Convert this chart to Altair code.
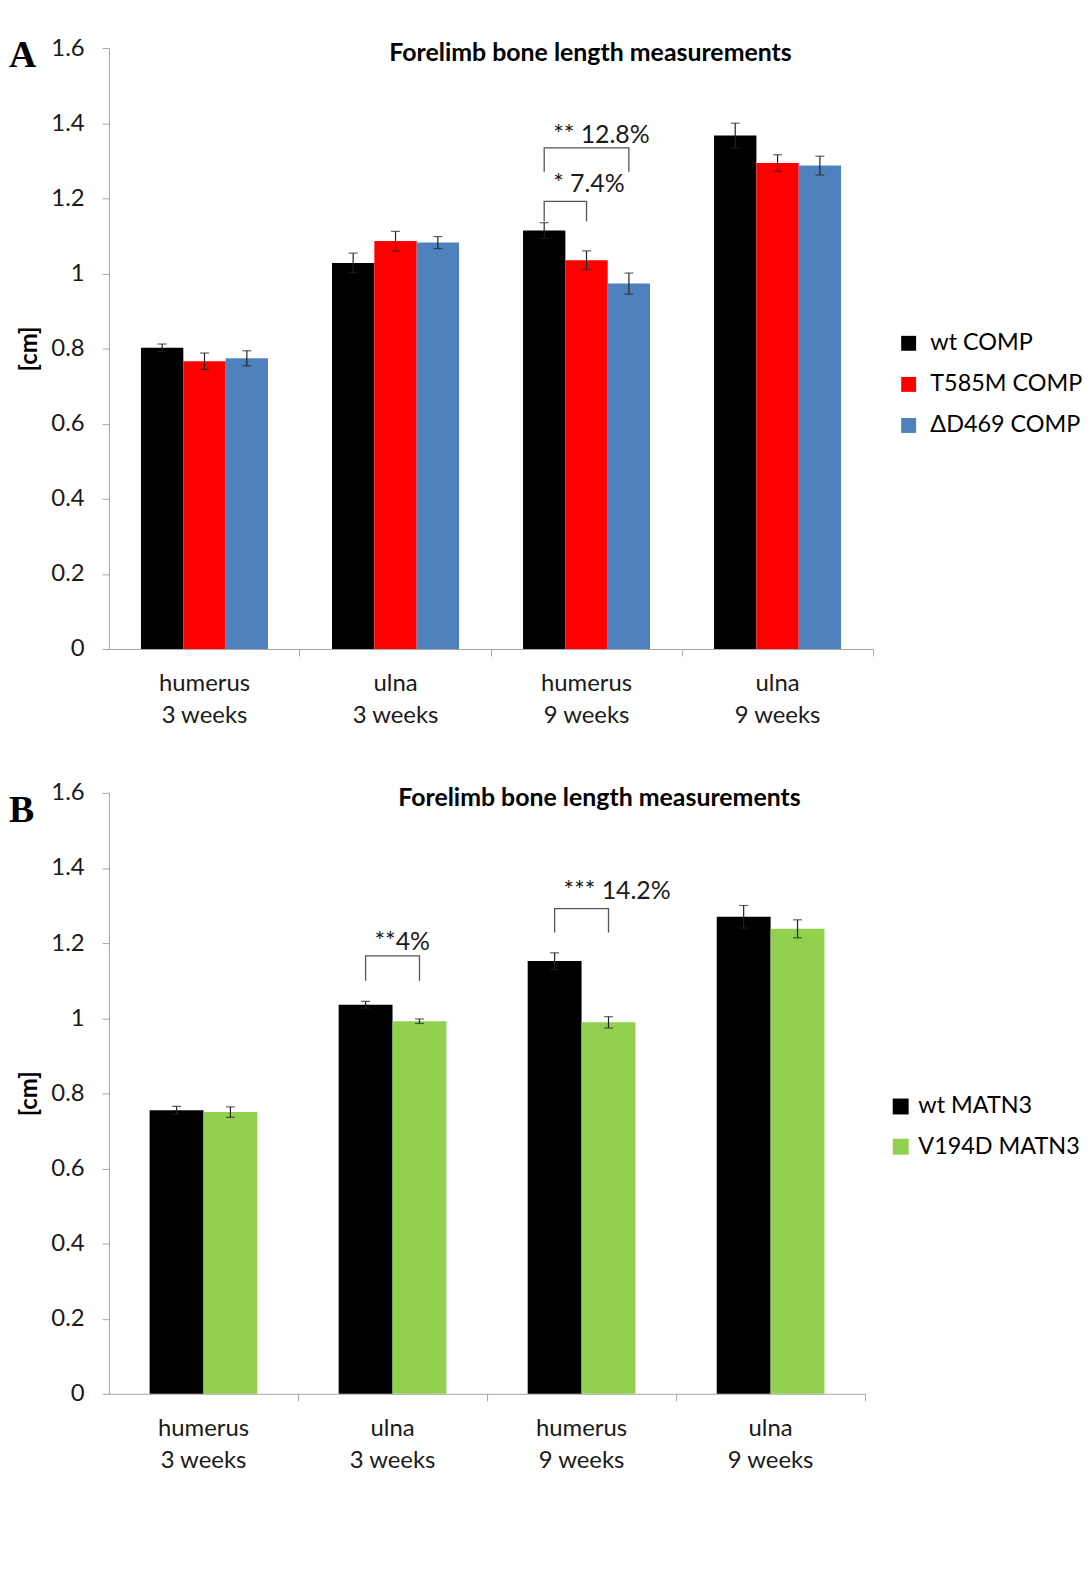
import altair as alt
import pandas as pd

# ---------------- data ----------------
categories = ["humerus\n3 weeks", "ulna\n3 weeks", "humerus\n9 weeks", "ulna\n9 weeks"]

groups_a = ["wt COMP", "T585M COMP", "ΔD469 COMP"]
colors_a = ["#000000", "#FF0000", "#4F81BD"]
wt_comp = [0.802, 1.028, 1.114, 1.367]
wt_comp_err = [0.010, 0.026, 0.021, 0.033]
t585m_comp = [0.766, 1.086, 1.035, 1.294]
t585m_comp_err = [0.022, 0.026, 0.025, 0.022]
d469_comp = [0.774, 1.082, 0.973, 1.287]
d469_comp_err = [0.020, 0.016, 0.028, 0.025]

groups_b = ["wt MATN3", "V194D MATN3"]
colors_b = ["#000000", "#92D050"]
wt_matn3 = [0.755, 1.036, 1.152, 1.270]
wt_matn3_err = [0.010, 0.009, 0.022, 0.030]
v194d_matn3 = [0.750, 0.992, 0.989, 1.238]
v194d_matn3_err = [0.014, 0.006, 0.015, 0.024]

# significance brackets: (category, from group, to group, leg bottom, top, label, label y)
brackets_a = [
    ("humerus\n9 weeks", "wt COMP", "ΔD469 COMP", 1.271, 1.334, "** 12.8%", 1.369),
    ("humerus\n9 weeks", "wt COMP", "T585M COMP", 1.139, 1.192, "* 7.4%", 1.237),
]
brackets_b = [
    ("ulna\n3 weeks", "wt MATN3", "V194D MATN3", 1.100, 1.166, "**4%", 1.202),
    ("humerus\n9 weeks", "wt MATN3", "V194D MATN3", 1.228, 1.292, "*** 14.2%", 1.339),
]

y_ticks = [0, 0.2, 0.4, 0.6, 0.8, 1.0, 1.2, 1.4, 1.6]
title_text = "Forelimb bone length measurements"

FONT = "Lato"
AXIS_GREY = "#A6A6A6"


def make_panel(groups, colors, series, errs, brackets, width, height,
               pad_inner, title_dx, title_dy, legend_x, legend_y,
               label_offset, sym_size, row_pad):
    rows = []
    for g, vals, es in zip(groups, series, errs):
        for c, v, e in zip(categories, vals, es):
            rows.append({"category": c, "group": g, "value": v,
                         "lo": v - e, "hi": v + e})
    bars = pd.DataFrame(rows)

    lrows, trows = [], []
    for i, (c, g1, g2, bot, top, lab, ly) in enumerate(brackets):
        for k, (g, y) in enumerate([(g1, bot), (g1, top), (g2, top), (g2, bot)]):
            lrows.append({"bid": i, "ord": k, "category": c, "group": g, "y": y})
        trows.append({"category": c, "group": g1, "y": ly, "label": lab})
    lines = pd.DataFrame(lrows)
    texts = pd.DataFrame(trows)

    pad_outer = pad_inner / 2
    band_pos = (1 - pad_outer) / (1 - pad_inner)

    xscale = alt.Scale(domain=categories, paddingInner=pad_inner,
                       paddingOuter=pad_outer)
    xoff = alt.XOffset("group:N", scale=alt.Scale(domain=groups, paddingInner=0,
                                                   paddingOuter=0))
    yscale = alt.Scale(domain=[0, 1.6], nice=False)

    xaxis = alt.Axis(title=None, labelExpr="split(datum.label, '\\n')",
                     labelFontSize=24, labelLineHeight=32, labelColor="#1a1a1a",
                     labelPadding=16, bandPosition=band_pos, ticks=True, tickSize=7,
                     tickColor=AXIS_GREY, domainColor=AXIS_GREY, labelAngle=0,
                     labelFont=FONT, labelBaseline="top")
    yaxis = alt.Axis(title="[cm]", values=y_ticks, format="~g", grid=False,
                     labelFontSize=24, labelColor="#1a1a1a", labelPadding=18,
                     tickSize=7, tickColor=AXIS_GREY, domainColor=AXIS_GREY,
                     titleFontSize=24, titleFontWeight="bold", titlePadding=9,
                     titleColor="#000000", labelFont=FONT, titleFont=FONT)

    x = alt.X("category:N", scale=xscale, axis=xaxis, sort=categories)

    bar = alt.Chart(bars).mark_bar(stroke=None).encode(
        x=x,
        xOffset=xoff,
        y=alt.Y("value:Q", scale=yscale, axis=yaxis),
        color=alt.Color("group:N", scale=alt.Scale(domain=groups, range=colors),
                        legend=alt.Legend(title=None, orient="none",
                                          legendX=legend_x, legendY=legend_y,
                                          symbolType="square", symbolSize=sym_size,
                                          symbolStrokeWidth=0, labelFontSize=23.5,
                                          labelFont=FONT, labelColor="#000000",
                                          labelOffset=label_offset, rowPadding=row_pad,
                                          labelLimit=400, padding=0)),
    )
    err_rule = alt.Chart(bars).mark_rule(color="#222222", strokeWidth=1.2).encode(
        x=x, xOffset=xoff, y="lo:Q", y2="hi:Q")
    cap_lo = alt.Chart(bars).mark_tick(color="#222222", thickness=1.2, size=9).encode(
        x=x, xOffset=xoff, y="lo:Q")
    cap_hi = alt.Chart(bars).mark_tick(color="#222222", thickness=1.2, size=9).encode(
        x=x, xOffset=xoff, y="hi:Q")
    brk = alt.Chart(lines).mark_line(color="#555555", strokeWidth=1.3).encode(
        x=x, xOffset=xoff, y="y:Q", detail="bid:N", order="ord:Q")
    txt = alt.Chart(texts).mark_text(align="left", baseline="middle", dx=9,
                                     fontSize=25, font=FONT, color="#1a1a1a").encode(
        x=x, xOffset=xoff, y="y:Q", text="label:N")

    return alt.layer(bar, err_rule, cap_lo, cap_hi, brk, txt).properties(
        width=width, height=height,
        title=alt.TitleParams(title_text, fontSize=25, fontWeight="bold", font=FONT,
                              anchor="middle", baseline="middle", offset=0,
                              dx=title_dx, dy=title_dy, color="#000000"),
    )


panel_a = make_panel(groups_a, colors_a, [wt_comp, t585m_comp, d469_comp],
                     [wt_comp_err, t585m_comp_err, d469_comp_err], brackets_a,
                     768, 604, 0.335, 100, 42, 792, 285, 10, 225, 16.3)
panel_b = make_panel(groups_b, colors_b, [wt_matn3, v194d_matn3],
                     [wt_matn3_err, v194d_matn3_err], brackets_b,
                     760, 604, 0.43, 113, 42, 784, 303.5, 6, 256, 15.4)

letter = dict(font="Liberation Serif", fontWeight="bold", fontSize=38,
              anchor="start", color="#000000", baseline="alphabetic", offset=0)

wrap_a = alt.vconcat(panel_a, title=alt.TitleParams("A", dx=-9, dy=68.7, **letter))
wrap_b = alt.vconcat(panel_b, title=alt.TitleParams("B", dx=-9, dy=79.6, **letter))

chart = alt.vconcat(wrap_a, wrap_b, spacing=53.6).resolve_scale(
    color="independent", x="independent", xOffset="independent"
).configure(font=FONT).configure_view(stroke=None).properties(
    padding={"left": 0.5, "top": 24.5, "right": 0, "bottom": 5}
)

chart.save("out.html", embed_options={"renderer": "svg", "actions": False})
